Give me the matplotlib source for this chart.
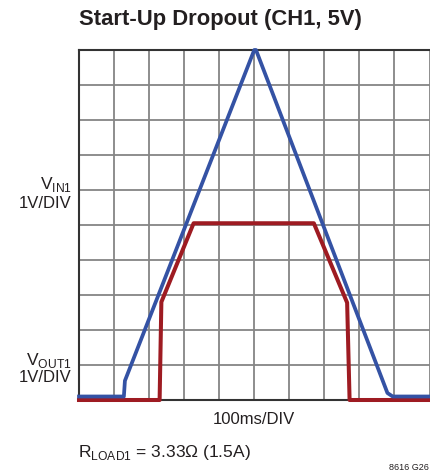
import numpy as np
from matplotlib import pyplot as plt
from matplotlib import font_manager

# trace data in divisions (x: 100ms/DIV, y: 1V/DIV from bottom of screen)
vin_x = [0.0, 1.28, 1.31, 5.0, 5.05, 8.8, 8.95, 10.0]
vin_y = [0.1, 0.1, 0.55, 10.0, 10.0, 0.2, 0.1, 0.1]
vout_x = [0.0, 2.30, 2.35, 3.27, 6.70, 7.65, 7.72, 10.0]
vout_y = [0.0, 0.0, 2.8, 5.05, 5.05, 2.78, 0.0, 0.0]

title = 'Start-Up Dropout (CH1, 5V)'
x_label = '100ms/DIV'
note = r'R$_{\mathregular{LOAD1}}$ = 3.33Ω (1.5A)'
code = '8616 G26'

names = {f.name for f in font_manager.fontManager.ttflist}
narrow = 'Liberation Sans Narrow' if 'Liberation Sans Narrow' in names else 'Liberation Sans'
plt.rcParams['font.family'] = [narrow, 'DejaVu Sans']
plt.rcParams['mathtext.fontset'] = 'custom'
plt.rcParams['mathtext.rm'] = narrow

fig = plt.figure(figsize=(4.30, 4.71), dpi=100)
ax = fig.add_axes([79 / 430, 71 / 471, 350.5 / 430, 350 / 471])
ax.set_xlim(0, 10)
ax.set_ylim(0, 10)
ax.set_xticks(np.arange(0, 11))
ax.set_yticks(np.arange(0, 11))
ax.tick_params(length=0, labelbottom=False, labelleft=False)
ax.grid(True, color='#858585', linewidth=1.3)
ax.set_axisbelow(True)
for side in ['left', 'top', 'bottom']:
    ax.spines[side].set_color('#333333')
    ax.spines[side].set_linewidth(1.5)
ax.spines['right'].set_visible(False)

ax.plot(vout_x, vout_y, color='#9e1b22', linewidth=2.9, clip_on=False,
        solid_joinstyle='round', zorder=3)
ax.plot(vin_x, vin_y, color='#3452a4', linewidth=2.7, clip_on=False,
        solid_joinstyle='round', zorder=4)

fig.text(220 / 430, 1 - 20 / 471, title, ha='center', va='center',
         fontsize=15.8, fontweight='bold', color='#231f20')
fig.text(72 / 430, 1 - 185 / 471, r'V$_{\mathregular{IN1}}$', ha='right',
         va='center', fontsize=12.5, color='#231f20')
fig.text(72 / 430, 1 - 203 / 471, '1V/DIV', ha='right', va='center',
         fontsize=12, color='#231f20')
fig.text(72 / 430, 1 - 360 / 471, r'V$_{\mathregular{OUT1}}$', ha='right',
         va='center', fontsize=12.5, color='#231f20')
fig.text(72 / 430, 1 - 378 / 471, '1V/DIV', ha='right', va='center',
         fontsize=12, color='#231f20')
fig.text(254 / 430, 1 - 420 / 471, x_label, ha='center', va='center',
         fontsize=12, color='#231f20')
fig.text(78 / 430, 1 - 452 / 471, note, ha='left', va='center',
         fontsize=12.5, color='#231f20')
fig.text(429 / 430, 1 - 467 / 471, code, ha='right', va='center',
         fontsize=6.5, color='#231f20')

fig.savefig('out.png', dpi=100)
